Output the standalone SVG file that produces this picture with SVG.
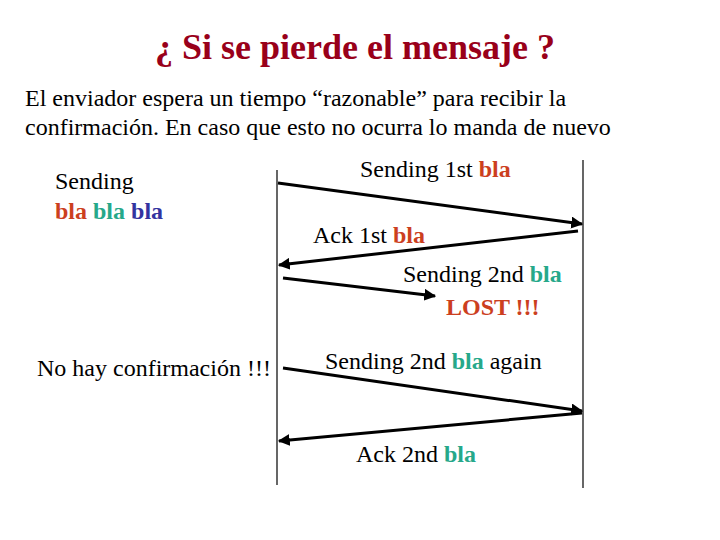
<svg xmlns="http://www.w3.org/2000/svg" width="720" height="540" viewBox="0 0 720 540">
<defs>
<style>
text{font-family:"Liberation Serif","Times New Roman",serif;fill:#000;font-size:24px}
.title{font-size:36px;fill:#99001a;font-weight:bold}
.b{font-weight:bold}
.r{fill:#cc3f1f}
.g{fill:#26a88a}
.u{fill:#3333a0}
.life{stroke:#000;stroke-width:1.2}
.msg{stroke:#000;stroke-width:3;fill:none;marker-end:url(#ah)}
</style>
<marker id="ah" viewBox="0 0 10 10" refX="9" refY="5" markerWidth="4" markerHeight="4" orient="auto" markerUnits="strokeWidth">
<path d="M0,0 L10,5 L0,10 z" fill="#000"/>
</marker>
</defs>
<rect width="720" height="540" fill="#fff"/>
<text class="title" x="355" y="59" text-anchor="middle">¿ Si se pierde el mensaje ?</text>
<text x="25" y="106">El enviador espera un tiempo “razonable” para recibir la</text>
<text x="25" y="135">confirmación. En caso que esto no ocurra lo manda de nuevo</text>
<g id="sender">
<line class="life" x1="277" y1="170" x2="277" y2="485"/>
<text x="55" y="189">Sending</text>
<text x="55" y="219" class="b"><tspan class="r">bla</tspan> <tspan class="g">bla</tspan> <tspan class="u">bla</tspan></text>
<text x="37" y="376">No hay confirmación !!!</text>
</g>
<g id="receiver">
<line class="life" x1="583" y1="160" x2="583" y2="488"/>
</g>
<g id="connectors">
<line class="msg" x1="278" y1="183" x2="582" y2="224"/>
<line class="msg" x1="578" y1="231" x2="279" y2="265"/>
<line class="msg" x1="283" y1="278" x2="435" y2="296"/>
<line class="msg" x1="283" y1="368" x2="582" y2="411"/>
<line class="msg" x1="582" y1="413" x2="279" y2="441"/>
</g>
<g id="labels">
<text x="360" y="177">Sending 1st <tspan class="b r">bla</tspan></text>
<text x="313" y="243">Ack 1st <tspan class="b r">bla</tspan></text>
<text x="403" y="282">Sending 2nd <tspan class="b g">bla</tspan></text>
<text x="446" y="315" class="b r">LOST !!!</text>
<text x="325" y="369">Sending 2nd <tspan class="b g">bla</tspan> again</text>
<text x="356" y="462">Ack 2nd <tspan class="b g">bla</tspan></text>
</g>
</svg>
